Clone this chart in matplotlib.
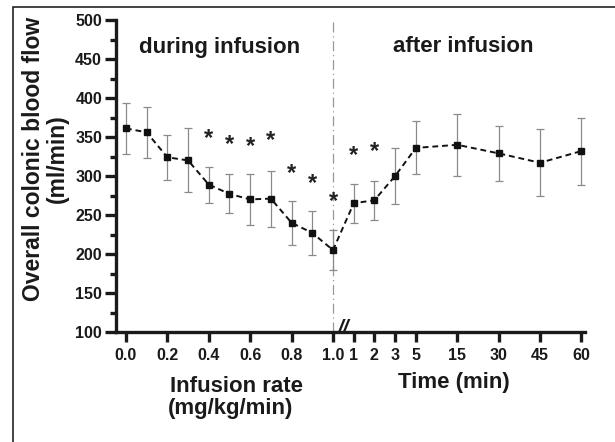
import matplotlib
matplotlib.use("Agg")
import matplotlib.pyplot as plt
from matplotlib.patches import Rectangle

plt.rcParams['font.family'] = ['Liberation Sans', 'DejaVu Sans']
plt.rcParams['font.weight'] = 'bold'

# ---- data ----
during_rate = [0.0, 0.1, 0.2, 0.3, 0.4, 0.5, 0.6, 0.7, 0.8, 0.9, 1.0]
during_mean = [361, 356, 324, 320, 289, 277, 270, 271, 240, 227, 205]
during_err = [33, 33, 29, 41, 23, 25, 33, 36, 28, 28, 26]

after_time = [1, 2, 3, 5, 15, 30, 45, 60]
after_mean = [265, 269, 300, 336, 340, 329, 317, 332]
after_err = [25, 25, 36, 34, 40, 35, 43, 43]

during_tick_labels = ['0.0', '0.2', '0.4', '0.6', '0.8', '1.0']
after_tick_labels = ['1', '2', '3', '5', '15', '30', '45', '60']

# significance markers: (category index in combined series, height)
star_index = [4, 5, 6, 7, 8, 9, 10, 11, 12]
star_y = [348, 340, 338, 345, 303, 290, 267, 326, 332]

# ---- layout ----
after_slot = [11, 12, 13, 14, 16, 18, 20, 22]
during_pos = list(range(len(during_rate)))
all_pos = during_pos + after_slot
all_mean = during_mean + after_mean
all_err = during_err + after_err

W, H = 615, 442
INK = '#1a1a1a'

fig = plt.figure(figsize=(6.15, 4.42), dpi=100)
ax = fig.add_axes([116 / W, 1 - 332 / H, (585 - 116) / W, (332 - 20) / H])

ax.errorbar(all_pos, all_mean, yerr=all_err, fmt='none', ecolor='#8a8a8a',
            elinewidth=0.9, capsize=3, capthick=0.9, zorder=2)
ax.plot(all_pos, all_mean, linestyle=(0, (3, 2)), color='#111111', lw=1.4,
        marker='s', markersize=5, markerfacecolor='#111111',
        markeredgecolor='#111111', zorder=3)

for i, yv in zip(star_index, star_y):
    ax.text(all_pos[i], yv, '*', ha='center', va='center', fontsize=17,
            fontweight='bold', color='#222222')

ax.set_xlim(-0.48, 22.17)
ax.set_ylim(100, 500)

# divider line
ax.axvline(during_pos[-1], color='#999999', lw=0.9,
           linestyle=(0, (8, 3, 1, 3)), zorder=1)

ax.set_xticks(during_pos[::2] + after_slot)
ax.set_xticklabels(during_tick_labels + after_tick_labels)
ax.set_yticks(range(100, 501, 50))
ax.set_yticks(range(125, 500, 50), minor=True)

for s in ['top', 'right']:
    ax.spines[s].set_visible(False)
for s in ['left', 'bottom']:
    ax.spines[s].set_linewidth(2.4)
    ax.spines[s].set_color(INK)

ax.tick_params(axis='both', which='major', direction='out', width=2.4,
               length=8, labelsize=11.5, colors=INK)
ax.tick_params(axis='y', which='major', pad=2)
ax.tick_params(axis='x', which='major', length=7.2, pad=4)
ax.tick_params(axis='y', which='minor', direction='out', width=2.4, length=4.3,
               colors=INK)
for lab in ax.get_xticklabels() + ax.get_yticklabels():
    lab.set_fontweight('bold')

# axis break marks
ax.text(10.5, 104, '//', ha='center', va='center', fontsize=15,
        fontweight='bold', fontstyle='italic', clip_on=False, color=INK)

fig.text(220 / W, 1 - 53 / H, 'during infusion', ha='center', va='baseline',
         fontsize=16, fontweight='bold', color=INK)
fig.text(463 / W, 1 - 52 / H, 'after infusion', ha='center', va='baseline',
         fontsize=16, fontweight='bold', color=INK)

fig.text(45 / W, 1 - 159 / H, 'Overall colonic blood flow\n(ml/min)',
         rotation=90, ha='center', va='center', multialignment='center',
         fontsize=16.5, fontweight='bold', color=INK, linespacing=1.05)

fig.text(236 / W, 1 - 392 / H, 'Infusion rate', ha='center', va='baseline',
         fontsize=16, fontweight='bold', color=INK)
fig.text(231 / W, 1 - 414 / H, '(mg/kg/min)', ha='center', va='baseline',
         fontsize=16, fontweight='bold', color=INK)
fig.text(454 / W, 1 - 388 / H, 'Time (min)', ha='center', va='baseline',
         fontsize=16, fontweight='bold', color=INK)

# figure frame (partially outside canvas)
fig.patches.append(Rectangle((13 / W, -0.1), 1.2, 1 - 7 / H + 0.1,
                             transform=fig.transFigure, fill=False,
                             edgecolor='#111111', lw=1.1))

fig.savefig('out.png', dpi=100)
